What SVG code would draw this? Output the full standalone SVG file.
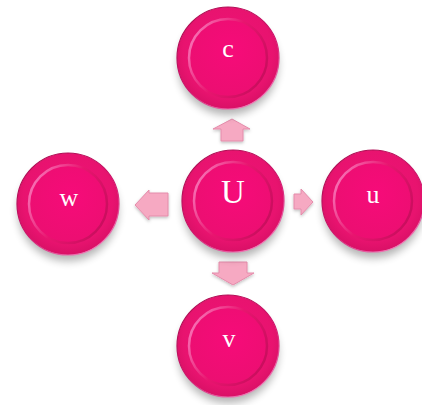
<svg xmlns="http://www.w3.org/2000/svg" xmlns:xlink="http://www.w3.org/1999/xlink" width="422" height="405" viewBox="0 0 422 405">
  <style>
    .lbl { font-family: "Liberation Serif", "DejaVu Serif", serif; fill: #FFFFFF; text-anchor: middle; font-size: 26px; }
    .big { font-size: 33px; }
    .arrow { fill: #F6A9C2; stroke: #E48CAB; stroke-width: 1; filter: url(#ashadow); }
  </style>
  <defs>
    <radialGradient id="gOuter" cx="50%" cy="45%" r="55%">
      <stop offset="0" stop-color="#F2107A"/>
      <stop offset="0.8" stop-color="#E8136F"/>
      <stop offset="1" stop-color="#D91066"/>
    </radialGradient>
    <linearGradient id="gRim" x1="0.2" y1="0" x2="0.8" y2="1">
      <stop offset="0" stop-color="#A80B4E"/>
      <stop offset="0.55" stop-color="#D0126A"/>
      <stop offset="1" stop-color="#F588C2"/>
    </linearGradient>
    <radialGradient id="gInner" cx="55%" cy="40%" r="70%">
      <stop offset="0" stop-color="#F60B79"/>
      <stop offset="1" stop-color="#EA0F70"/>
    </radialGradient>
    <linearGradient id="gInnerStroke" x1="0" y1="0.3" x2="1" y2="0.8">
      <stop offset="0" stop-color="#F770B4"/>
      <stop offset="0.45" stop-color="#E8156F"/>
      <stop offset="1" stop-color="#C60D5C"/>
    </linearGradient>
    <filter id="shadow" x="-30%" y="-30%" width="160%" height="170%">
      <feGaussianBlur stdDeviation="4"/>
    </filter>
    <filter id="ashadow" x="-30%" y="-30%" width="160%" height="160%">
      <feDropShadow dx="0" dy="1.5" stdDeviation="1.5" flood-color="#000" flood-opacity="0.25"/>
    </filter>
    <g id="ball">
      <ellipse cx="0" cy="7" rx="50" ry="50" fill="#000" opacity="0.3" filter="url(#shadow)"/>
      <circle cx="0" cy="0" r="51" fill="url(#gOuter)" stroke="url(#gRim)" stroke-width="1.2"/>
      <circle cx="0" cy="0" r="39" fill="url(#gInner)" stroke="url(#gInnerStroke)" stroke-width="2.5"/>
    </g>
  </defs>

  <g id="connectors">
    <polygon class="arrow" points="232,119 250,129 243,129 243,141 221,141 221,129 213,129"/>
    <polygon class="arrow" points="135,205 149,190 149,193 168,193 168,216 149,216 149,220"/>
    <polygon class="arrow" points="294,194 301,194 301,189 313,202 301,215 301,209 294,209"/>
    <polygon class="arrow" points="219,262 247,262 247,273 254,273 233,285 212,273 219,273"/>
  </g>

  <g id="node-c">
    <use href="#ball" x="228" y="58"/>
    <text class="lbl" x="228" y="57">c</text>
  </g>
  <g id="node-U">
    <use href="#ball" x="233" y="201"/>
    <text class="lbl big" x="233" y="203">U</text>
  </g>
  <g id="node-w">
    <use href="#ball" x="68" y="204"/>
    <text class="lbl" x="69" y="206">w</text>
  </g>
  <g id="node-u">
    <use href="#ball" x="373" y="201"/>
    <text class="lbl" x="373" y="203">u</text>
  </g>
  <g id="node-v">
    <use href="#ball" x="228" y="346"/>
    <text class="lbl" x="229" y="347">v</text>
  </g>
</svg>
